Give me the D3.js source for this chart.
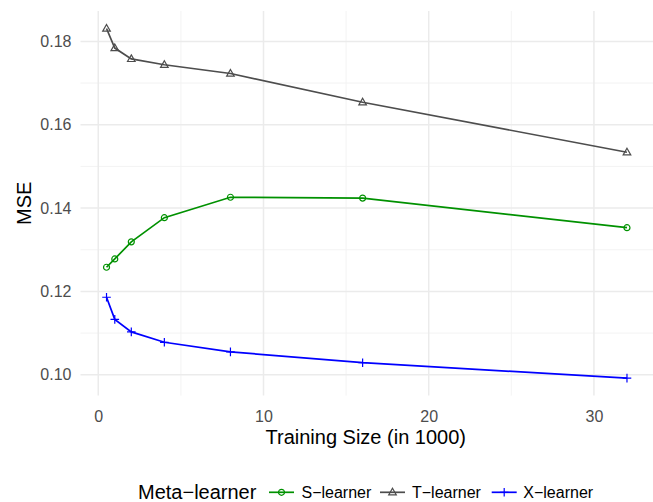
<!DOCTYPE html>
<html>
<head>
<meta charset="utf-8">
<script src="https://cdn.jsdelivr.net/npm/d3@7"></script>
<style>
  body { margin: 0; background: #fff; }
  svg { display: block; font-family: "Liberation Sans", Arial, sans-serif; }
</style>
</head>
<body>
<svg id="chart" width="653" height="502"></svg>
<script>
const trainingSize = [0.5, 1, 2, 4, 8, 16, 32];
const sLearner = [0.1258, 0.1278, 0.1319, 0.1377, 0.1426, 0.1424, 0.1353];
const tLearner = [0.1831, 0.1784, 0.1758, 0.1744, 0.1723, 0.1654, 0.1534];
const xLearner = [0.1186, 0.1133, 0.1103, 0.1078, 0.1055, 0.1029, 0.0992];
const seriesNames = ["S\u2212learner", "T\u2212learner", "X\u2212learner"];
const xTicks = [0, 10, 20, 30];
const yTicks = [0.10, 0.12, 0.14, 0.16, 0.18];
const xMinor = [5, 15, 25];
const yMinor = [0.11, 0.13, 0.15, 0.17];

const series = [
  { name: seriesNames[0], values: sLearner, color: "#009100", shape: "circle" },
  { name: seriesNames[1], values: tLearner, color: "#4D4D4D", shape: "triangle" },
  { name: seriesNames[2], values: xLearner, color: "#0000FF", shape: "plus" }
];

const svg = d3.select("#chart");
const pLeft = 80.5, pRight = 653, pTop = 11, pBottom = 395.6;
const FONT = "Liberation Sans, Arial, sans-serif";

const allY = [...sLearner, ...tLearner, ...xLearner];
const xExt = d3.extent(trainingSize), yExt = d3.extent(allY);
const xPad = (xExt[1] - xExt[0]) * 0.05, yPad = (yExt[1] - yExt[0]) * 0.05;
const x = d3.scaleLinear().domain([xExt[0] - xPad, xExt[1] + xPad]).range([pLeft, pRight]);
const y = d3.scaleLinear().domain([yExt[0] - yPad, yExt[1] + yPad]).range([pBottom, pTop]);

const grid = svg.append("g");
grid.selectAll(".xminor").data(xMinor).enter().append("line")
  .attr("x1", d => x(d)).attr("x2", d => x(d)).attr("y1", pTop).attr("y2", pBottom)
  .attr("stroke", "#F2F2F2").attr("stroke-width", 0.9);
grid.selectAll(".yminor").data(yMinor).enter().append("line")
  .attr("y1", d => y(d)).attr("y2", d => y(d)).attr("x1", pLeft).attr("x2", pRight)
  .attr("stroke", "#F2F2F2").attr("stroke-width", 0.9);
grid.selectAll(".xmajor").data(xTicks).enter().append("line")
  .attr("x1", d => x(d)).attr("x2", d => x(d)).attr("y1", pTop).attr("y2", pBottom)
  .attr("stroke", "#EBEBEB").attr("stroke-width", 1.5);
grid.selectAll(".ymajor").data(yTicks).enter().append("line")
  .attr("y1", d => y(d)).attr("y2", d => y(d)).attr("x1", pLeft).attr("x2", pRight)
  .attr("stroke", "#EBEBEB").attr("stroke-width", 1.5);

// axes (labels only)
const xAxis = svg.append("g").attr("transform", `translate(0,407.4)`)
  .call(d3.axisBottom(x).tickValues(xTicks).tickSize(0).tickPadding(3).tickFormat(d3.format("d")));
xAxis.select(".domain").remove();
xAxis.selectAll("text").attr("fill", "#4D4D4D").attr("font-size", "16px").attr("font-family", FONT);

const yAxis = svg.append("g").attr("transform", `translate(${pLeft - 5},0)`)
  .call(d3.axisLeft(y).tickValues(yTicks).tickSize(0).tickPadding(4).tickFormat(d3.format(".2f")));
yAxis.select(".domain").remove();
yAxis.selectAll("text").attr("fill", "#4D4D4D").attr("font-size", "16px").attr("font-family", FONT);

svg.append("text").attr("x", (pLeft + pRight) / 2 - 1).attr("y", 444)
  .attr("text-anchor", "middle").attr("font-size", "20px").attr("fill", "#000")
  .text("Training Size (in 1000)");
svg.append("text").attr("transform", `translate(31,${(pTop + pBottom) / 2}) rotate(-90)`)
  .attr("text-anchor", "middle").attr("font-size", "20px").attr("fill", "#000")
  .text("MSE");

function drawShape(g, shape, color) {
  if (shape === "circle") {
    g.append("circle").attr("r", 3).attr("fill", "none").attr("stroke", color).attr("stroke-width", 1.2);
  } else if (shape === "triangle") {
    const s = 4;
    g.append("path").attr("d", `M0,${-s}L${s*0.95},${s*0.65}L${-s*0.95},${s*0.65}Z`)
      .attr("fill", "none").attr("stroke", color).attr("stroke-width", 1.2);
  } else {
    const s = 4.3;
    g.append("path").attr("d", `M${-s},0H${s}M0,${-s}V${s}`)
      .attr("stroke", color).attr("stroke-width", 1.2);
  }
}

const line = d3.line().x(d => x(d[0])).y(d => y(d[1]));
series.forEach(s => {
  const pts = trainingSize.map((t, i) => [t, s.values[i]]);
  svg.append("path").datum(pts).attr("d", line)
    .attr("fill", "none").attr("stroke", s.color).attr("stroke-width", 1.7);
  pts.forEach(p => {
    const g = svg.append("g").attr("transform", `translate(${x(p[0])},${y(p[1])})`);
    drawShape(g, s.shape, s.color);
  });
});

// legend
const legY = 492.3;
svg.append("text").attr("x", 138).attr("y", 499).attr("font-size", "20px").attr("fill", "#000")
  .text("Meta\u2212learner");
const keyX = [269, 380, 491.7];
const textX = [301.5, 412, 523.3];
series.forEach((s, i) => {
  svg.append("line").attr("x1", keyX[i]).attr("x2", keyX[i] + 25).attr("y1", legY).attr("y2", legY)
    .attr("stroke", s.color).attr("stroke-width", 1.7);
  const g = svg.append("g").attr("transform", `translate(${keyX[i] + 12.5},${legY})`);
  drawShape(g, s.shape, s.color);
  svg.append("text").attr("x", textX[i]).attr("y", 497.7).attr("font-size", "16px").attr("fill", "#000")
    .text(s.name);
});
</script>
</body>
</html>
